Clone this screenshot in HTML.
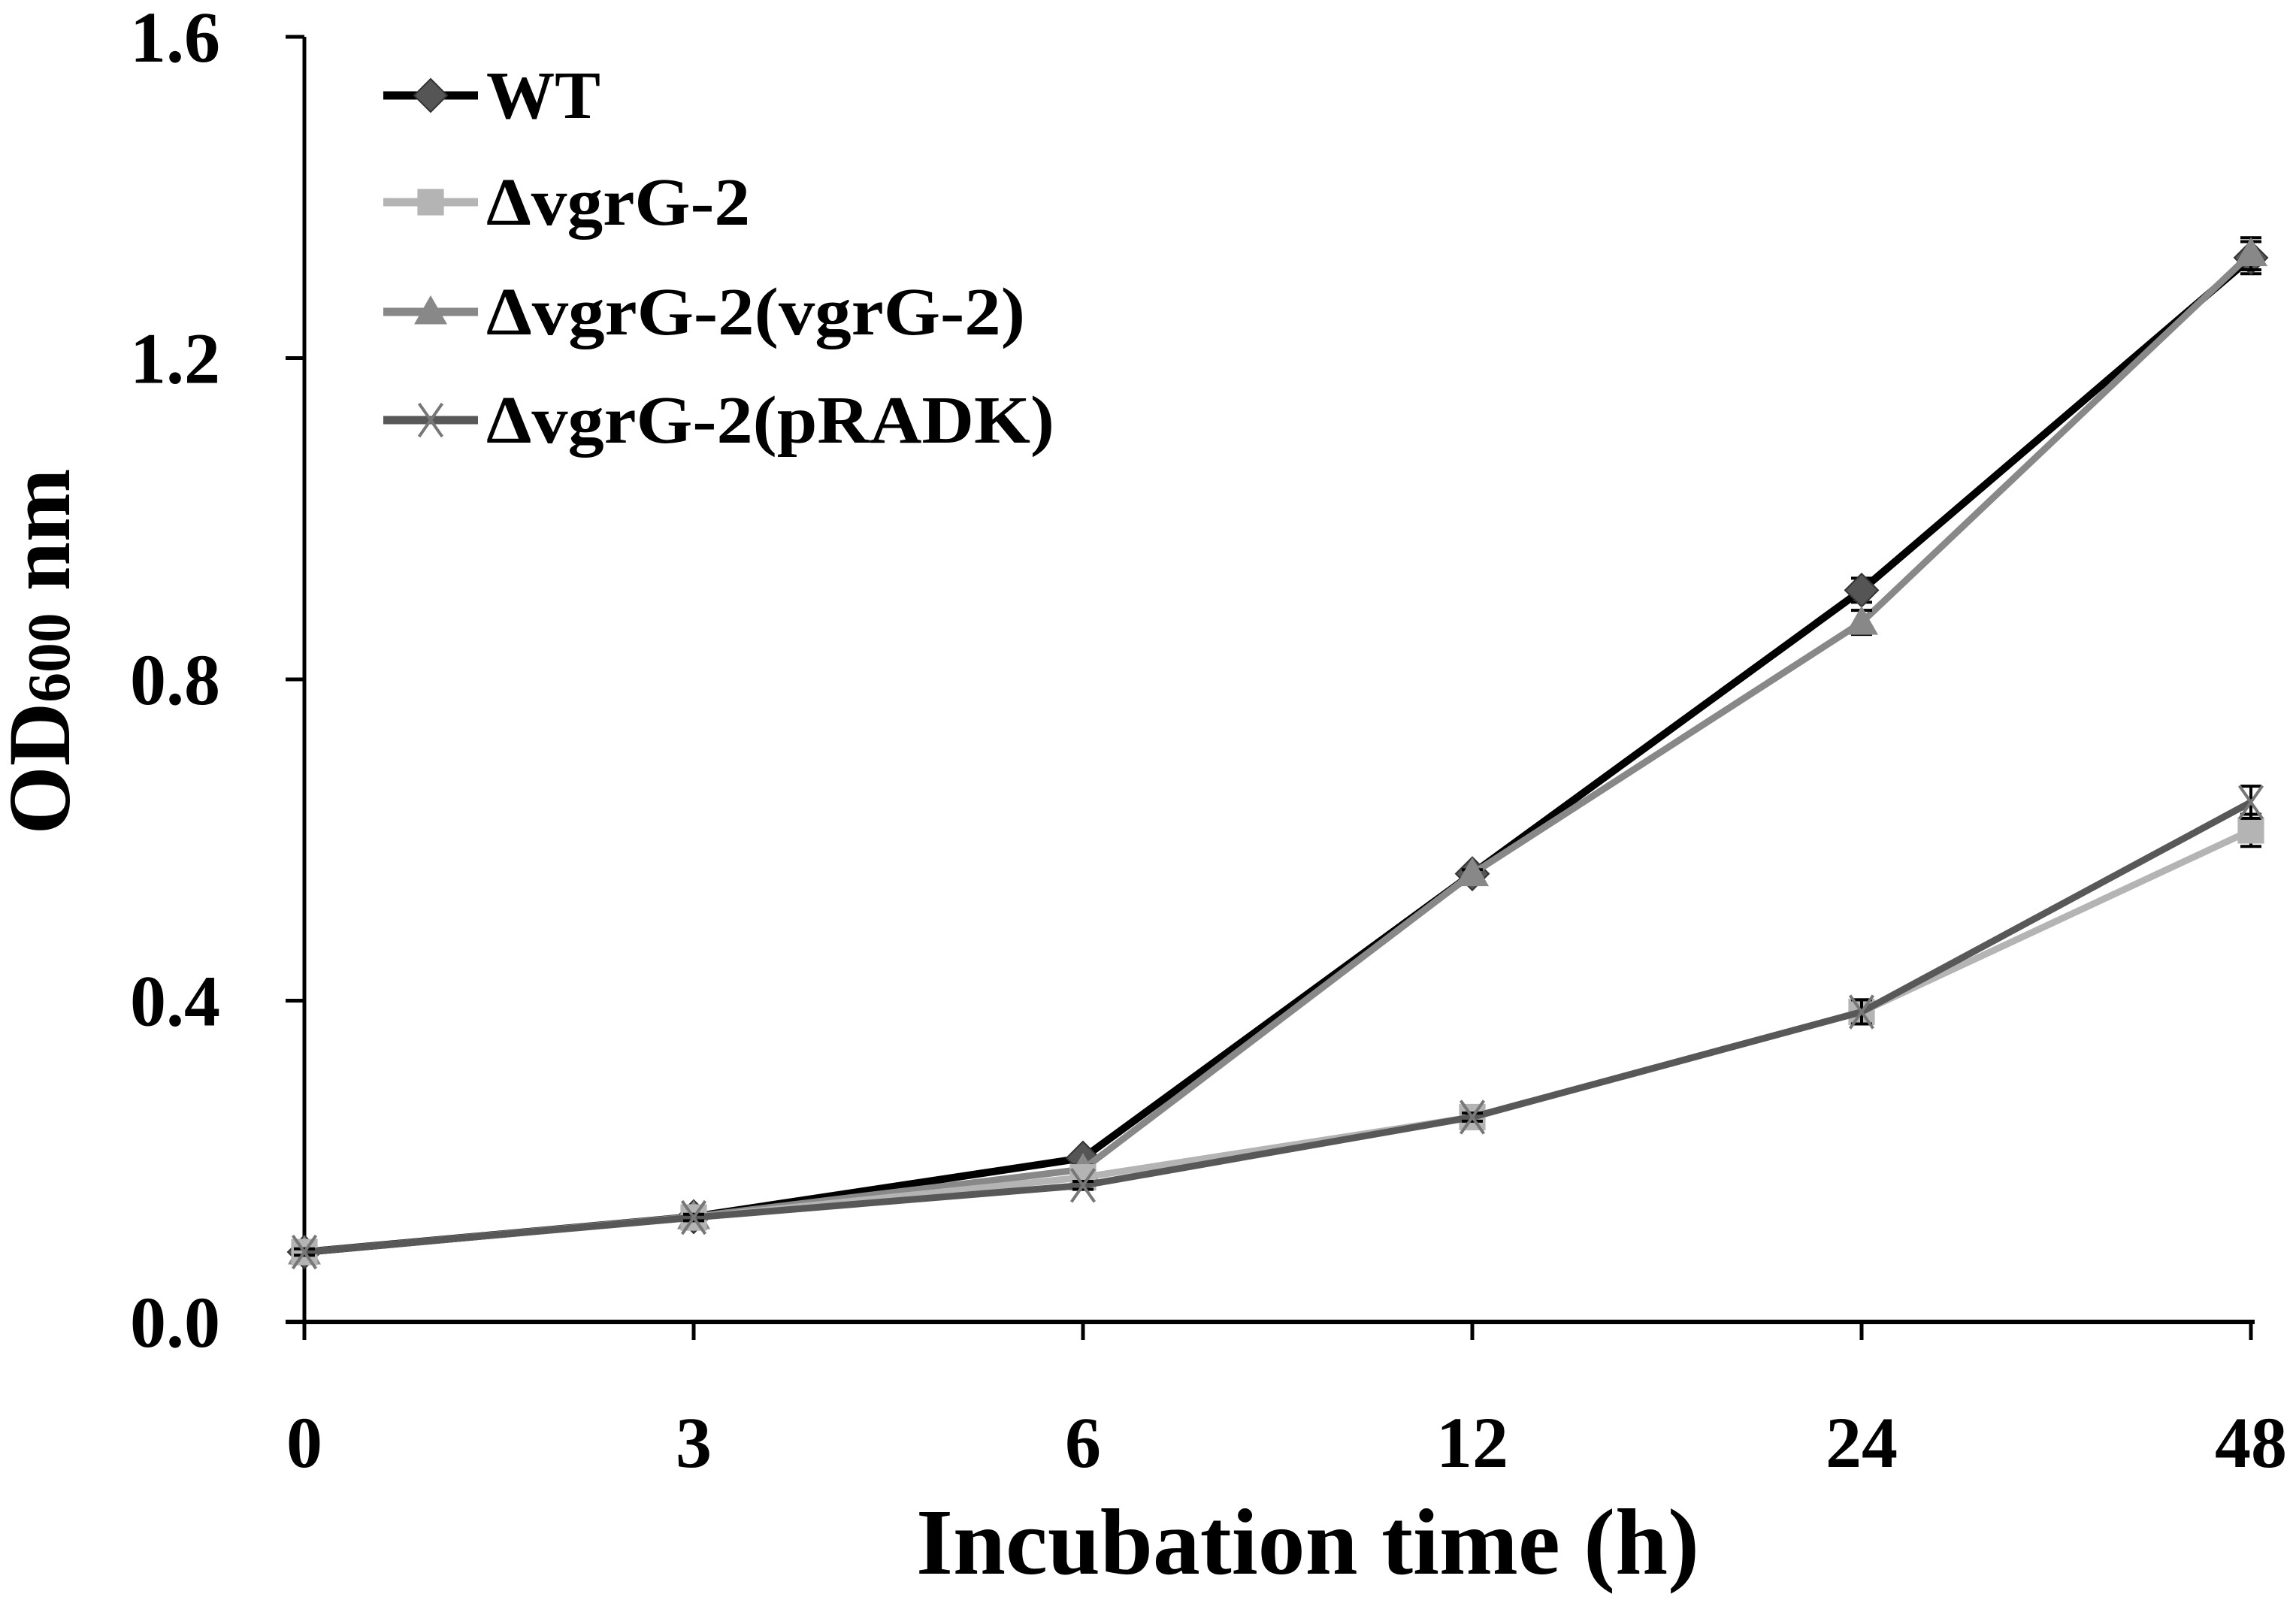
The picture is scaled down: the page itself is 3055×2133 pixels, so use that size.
<!DOCTYPE html>
<html><head><meta charset="utf-8"><style>
html,body{margin:0;padding:0;background:#fff;}
svg{display:block;font-family:"Liberation Serif",serif;font-weight:bold;}
</style></head><body>
<svg id="chart" width="3055" height="2133" viewBox="0 0 3055 2133" xmlns="http://www.w3.org/2000/svg">
<g id="axes"></g>
<g id="series"></g>
<g id="legend"></g>
<text x="1740" y="2094" font-size="125" text-anchor="middle" textLength="1042" lengthAdjust="spacingAndGlyphs">Incubation time (h)</text>
<text transform="translate(92,867) rotate(-90)" font-size="118" text-anchor="middle" textLength="487" lengthAdjust="spacingAndGlyphs">OD<tspan font-size="80">600</tspan> nm</text>
</svg>
<script>
const categories = ["0","3","6","12","24","48"];
const yTicks = [0.0,0.4,0.8,1.2,1.6];
const yTickLabels = ["0.0","0.4","0.8","1.2","1.6"];
const seriesNames = ["WT","\u0394vgrG-2","\u0394vgrG-2(vgrG-2)","\u0394vgrG-2(pRADK)"];
const wtValues = [0.087,0.131,0.204,0.558,0.911,1.325];
const mutValues = [0.087,0.130,0.180,0.255,0.386,0.612];
const compValues = [0.087,0.131,0.190,0.558,0.871,1.330];
const pradkValues = [0.087,0.130,0.170,0.255,0.386,0.647];
const errValues = [0.004,0.004,0.005,0.005,0.015,0.02];

const NS="http://www.w3.org/2000/svg";
const X0=405, XSTEP=(2995-405)/5, Y0=1759, YTOP=49, YMAX=1.6;
function xPos(i){return X0+i*XSTEP;}
function yPos(v){return Y0-(v/YMAX)*(Y0-YTOP);}
function mk(tag,attrs,parent){const e=document.createElementNS(NS,tag);for(const k in attrs)e.setAttribute(k,attrs[k]);parent.appendChild(e);return e;}

const axes=document.getElementById('axes');
let l=mk('line',{x1:X0,y1:YTOP,x2:X0,y2:Y0+2,stroke:'#000','stroke-width':5},axes);


l=mk('line',{x1:380,y1:Y0,x2:3000,y2:Y0,stroke:'#000','stroke-width':6},axes);


yTicks.forEach((v,i)=>{
  const t=mk('line',{x1:380,y1:yPos(v),x2:X0,y2:yPos(v),stroke:'#000','stroke-width':5},axes);
  
  
  const tx=mk('text',{x:293,y:yPos(v)+33,'font-size':96,'text-anchor':'end'},axes);
  tx.textContent=yTickLabels[i];
  
  
});
categories.forEach((c,i)=>{
  const t=mk('line',{x1:xPos(i),y1:Y0,x2:xPos(i),y2:Y0+24,stroke:'#000','stroke-width':5},axes);
  
  
  const tx=mk('text',{x:xPos(i),y:1952,'font-size':96,'text-anchor':'middle'},axes);
  tx.textContent=c;
  
  
});

const styles=[
 {vals:wtValues,line:'#000',mark:'#555',shape:'diamond',name:'wt'},
 {vals:mutValues,line:'#b4b4b4',mark:'#b4b4b4',shape:'square',name:'vgrg2-mutant'},
 {vals:compValues,line:'#888',mark:'#888',shape:'triangle',name:'vgrg2-complemented'},
 {vals:pradkValues,line:'#585858',mark:'#777',shape:'x',name:'vgrg2-pradk'}
];
const legendWidths=[152,351,717,756];
function marker(shape,cx,cy,col,parent,s){
  let e;
  if(shape==='diamond') e=mk('polygon',{points:`${cx},${cy-s} ${cx+s},${cy} ${cx},${cy+s} ${cx-s},${cy}`,fill:col,stroke:'#333','stroke-width':2},parent);
  else if(shape==='square') e=mk('rect',{x:cx-s*0.8,y:cy-s*0.8,width:s*1.6,height:s*1.6,fill:col},parent);
  else if(shape==='triangle') e=mk('polygon',{points:`${cx},${cy-s} ${cx+s},${cy+s*0.75} ${cx-s},${cy+s*0.75}`,fill:col},parent);
  else {e=mk('path',{d:`M${cx-s*0.7},${cy-s} L${cx+s*0.7},${cy+s} M${cx+s*0.7},${cy-s} L${cx-s*0.7},${cy+s}`,stroke:col,'stroke-width':4,fill:'none'},parent);}
  return e;
}
const sg=document.getElementById('series');
[0,2,1,3].forEach(k=>{
  const st=styles[k];
  const g=mk('g',{},sg);
  
  
  const pts=st.vals.map((v,i)=>xPos(i)+','+yPos(v)).join(' ');
  const pl=mk('polyline',{points:pts,fill:'none',stroke:st.line,'stroke-width':k===0?10:9,'stroke-linejoin':'round'},g);
  
  
  st.vals.forEach((v,i)=>{
    const e=errValues[i];
    const eb=mk('path',{d:`M${xPos(i)},${yPos(v+e)} L${xPos(i)},${yPos(v-e)} M${xPos(i)-14},${yPos(v+e)} L${xPos(i)+14},${yPos(v+e)} M${xPos(i)-14},${yPos(v-e)} L${xPos(i)+14},${yPos(v-e)}`,stroke:'#000','stroke-width':4,fill:'none'},g);
    
    
    const m=marker(st.shape,xPos(i),yPos(v),st.mark,g,22);
    
    
  });
});

const lg=document.getElementById('legend');
const rowsY=[127,269,415,559];
styles.forEach((st,k)=>{
  const g=mk('g',{},lg);
  
  
  mk('line',{x1:510,y1:rowsY[k],x2:636,y2:rowsY[k],stroke:st.line,'stroke-width':11},g);
  marker(st.shape,573,rowsY[k],st.mark,g,22);
  const t=mk('text',{x:647,y:rowsY[k]+30,'font-size':90,textLength:legendWidths[k],lengthAdjust:'spacingAndGlyphs'},g);
  t.textContent=seriesNames[k];
});
</script>
</body></html>
